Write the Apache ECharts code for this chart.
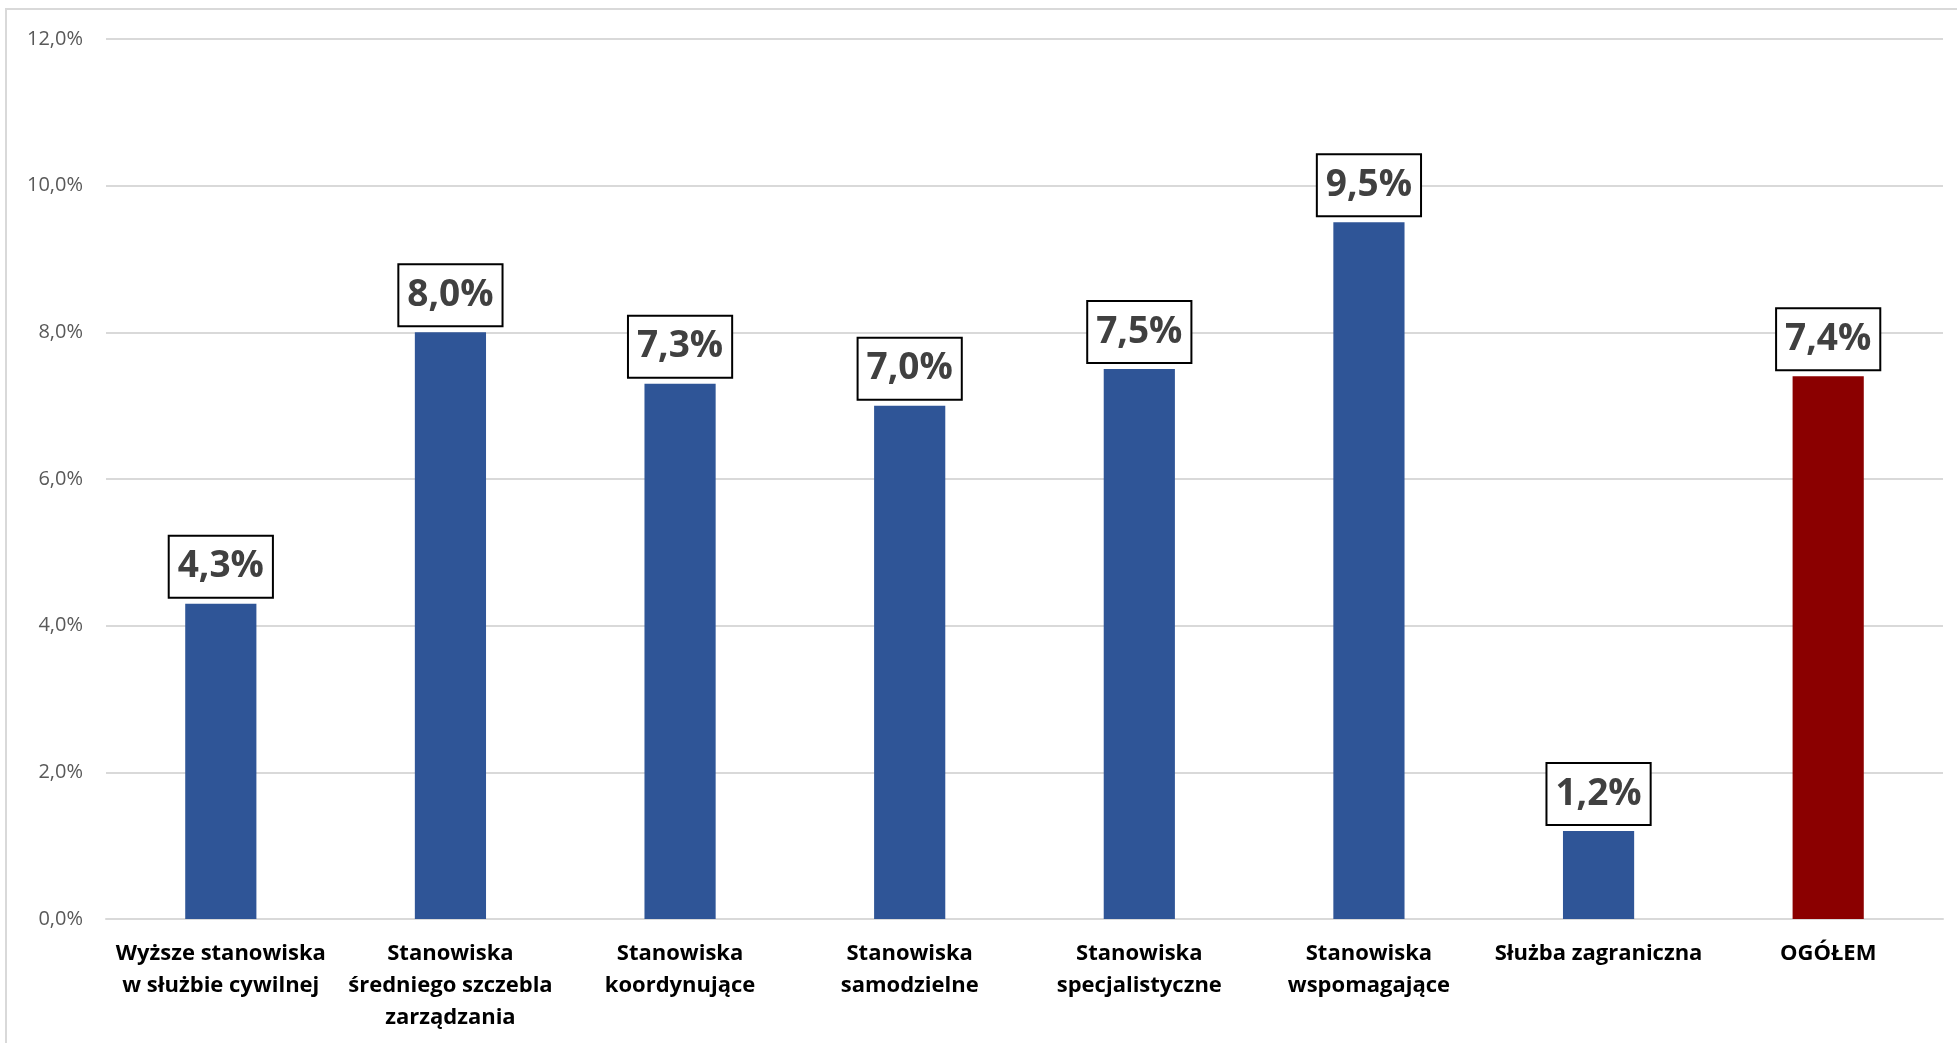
<!DOCTYPE html>
<html>
<head>
<meta charset="utf-8">
<style>
  html, body { margin: 0; padding: 0; background: #ffffff; }
  #chart { width: 1957px; height: 1043px; }
</style>
<script src="https://cdn.jsdelivr.net/npm/echarts@6/dist/echarts.min.js"></script>
</head>
<body>
<div id="chart"></div>
<script>
// Kategorie stanowisk (oś X)
const categories = [
  'Wyższe stanowiska\nw służbie cywilnej',
  'Stanowiska\nśredniego szczebla\nzarządzania',
  'Stanowiska\nkoordynujące',
  'Stanowiska\nsamodzielne',
  'Stanowiska\nspecjalistyczne',
  'Stanowiska\nwspomagające',
  'Służba zagraniczna',
  'OGÓŁEM'
];
// Wartości w procentach
const values = [4.3, 8.0, 7.3, 7.0, 7.5, 9.5, 1.2, 7.4];
// Kolory słupków: ostatni (OGÓŁEM) wyróżniony
const barColors = ['#2F5597', '#2F5597', '#2F5597', '#2F5597', '#2F5597', '#2F5597', '#2F5597', '#8B0000'];
// Oś Y
const yMin = 0, yMax = 12, yStep = 2;

const fmt = v => v.toFixed(1).replace('.', ',') + '%';

const chart = echarts.init(document.getElementById('chart'), null, { renderer: 'canvas' });

chart.setOption({
  backgroundColor: '#ffffff',
  animation: false,
  graphic: [{
    type: 'rect',
    shape: { x: 6, y: 9, width: 2100, height: 2100 },
    style: { fill: 'none', stroke: '#d9d9d9', lineWidth: 2 },
    silent: true,
    z: -1
  }],
  grid: { left: 106, right: 14, top: 39, bottom: 124, containLabel: false },
  xAxis: {
    type: 'category',
    data: categories,
    axisLine: { show: true, lineStyle: { color: '#d9d9d9', width: 2 } },
    axisTick: { show: false },
    axisLabel: {
      interval: 0,
      margin: 19,
      color: '#000000',
      fontFamily: '"Open Sans", sans-serif',
      fontWeight: 'bold',
      fontSize: 22,
      lineHeight: 32
    }
  },
  yAxis: {
    type: 'value',
    min: yMin,
    max: yMax,
    interval: yStep,
    axisLine: { show: false },
    axisTick: { show: false },
    splitLine: { lineStyle: { color: '#d9d9d9', width: 2 } },
    axisLabel: {
      margin: 23,
      color: '#595959',
      fontFamily: '"Open Sans", sans-serif',
      fontSize: 20,
      formatter: v => fmt(v)
    }
  },
  series: [{
    type: 'bar',
    barWidth: '31%',
    data: values.map((v, i) => ({ value: v, itemStyle: { color: barColors[i] } })),
    label: {
      show: true,
      position: 'top',
      distance: 7,
      formatter: p => fmt(p.value),
      color: '#404040',
      fontFamily: '"Open Sans", sans-serif',
      fontWeight: 'bold',
      fontSize: 37,
      lineHeight: 44,
      backgroundColor: '#ffffff',
      borderColor: '#000000',
      borderWidth: 2,
      padding: [8, 8, 8, 8]
    }
  }]
});
</script>
</body>
</html>
